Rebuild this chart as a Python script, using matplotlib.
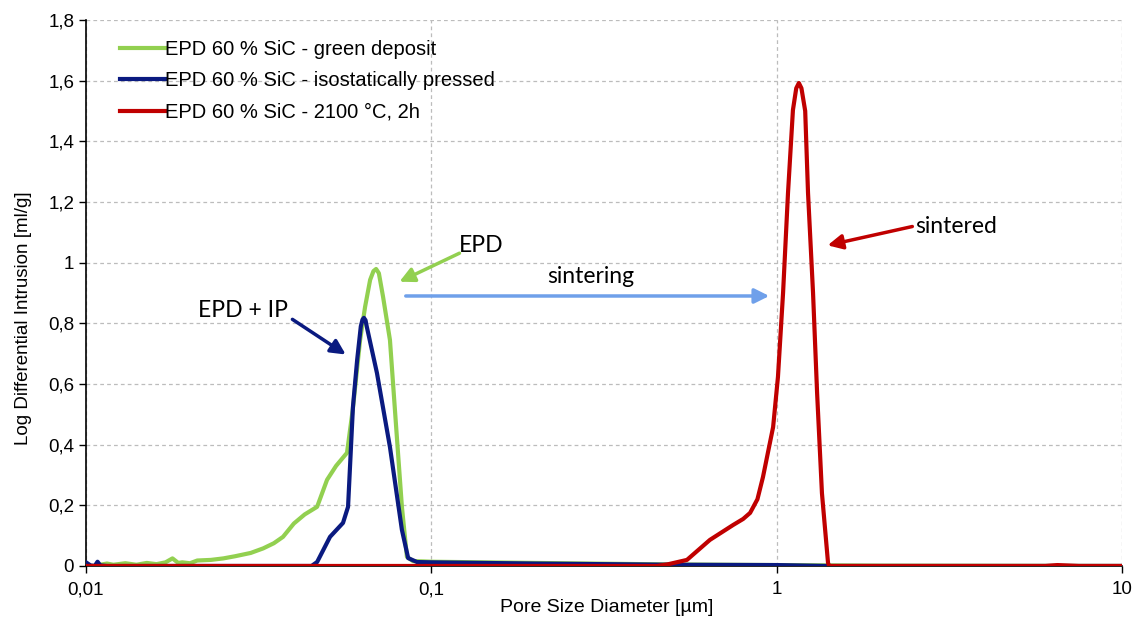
import matplotlib.pyplot as plt
from matplotlib.ticker import FixedLocator, NullLocator

# pore size [um] / log differential intrusion [ml/g]
green_x = [0.0105, 0.0115, 0.012, 0.013, 0.014, 0.015, 0.016, 0.017, 0.0178, 0.0185, 0.019,
           0.020, 0.021, 0.023, 0.025, 0.027, 0.030, 0.0326, 0.035, 0.0372, 0.040, 0.043,
           0.0467, 0.0499, 0.053, 0.057, 0.0593, 0.0622, 0.0643, 0.0665, 0.068, 0.0692,
           0.0705, 0.0725, 0.0759, 0.0796, 0.0822, 0.085, 0.0885, 0.095, 0.1, 0.2, 0.5,
           1.0, 2.0, 10.0]
green_y = [0.0, 0.008, 0.004, 0.009, 0.004, 0.01, 0.006, 0.012, 0.025, 0.01, 0.012,
           0.009, 0.018, 0.02, 0.025, 0.032, 0.043, 0.058, 0.075, 0.096, 0.14, 0.17,
           0.195, 0.284, 0.33, 0.373, 0.52, 0.745, 0.854, 0.943, 0.972, 0.979,
           0.965, 0.887, 0.745, 0.415, 0.195, 0.03, 0.016, 0.015, 0.014, 0.01, 0.005,
           0.003, 0.001, 0.0]

blue_x = [0.01, 0.0103, 0.0106, 0.0108, 0.011, 0.0115, 0.02, 0.045, 0.0467, 0.0509, 0.0555,
          0.0574, 0.0593, 0.061, 0.0625, 0.0632, 0.0638, 0.0645, 0.065, 0.0696, 0.0759,
          0.0822, 0.0857, 0.0909, 0.1, 0.2, 0.5, 1.0, 1.4, 10.0]
blue_y = [0.012, 0.002, 0.0, 0.014, 0.002, 0.0, 0.0, 0.0, 0.013, 0.096, 0.142,
          0.195, 0.524, 0.68, 0.79, 0.812, 0.818, 0.81, 0.79, 0.636, 0.392,
          0.119, 0.026, 0.013, 0.012, 0.008, 0.004, 0.003, 0.0, 0.0]

red_x = [0.01, 0.45, 0.482, 0.55, 0.641, 0.748, 0.80, 0.838, 0.88, 0.913, 0.977, 1.009,
         1.044, 1.079, 1.115, 1.14, 1.16, 1.18, 1.21, 1.233, 1.275, 1.31, 1.353, 1.409,
         1.42, 6.0, 6.5, 7.5, 10.0]
red_y = [0.0, 0.0, 0.005, 0.02, 0.086, 0.135, 0.155, 0.175, 0.22, 0.293, 0.458, 0.623,
         0.90, 1.23, 1.503, 1.575, 1.592, 1.575, 1.50, 1.23, 0.90, 0.57, 0.24, 0.01,
         0.0, 0.0, 0.003, 0.0, 0.0]

labels = ['EPD 60 % SiC - green deposit',
          'EPD 60 % SiC - isostatically pressed',
          'EPD 60 % SiC - 2100 °C, 2h']

x_ticks = [0.01, 0.1, 1, 10]
x_tick_labels = ['0,01', '0,1', '1', '10']
y_ticks = [0, 0.2, 0.4, 0.6, 0.8, 1.0, 1.2, 1.4, 1.6, 1.8]
y_tick_labels = ['0', '0,2', '0,4', '0,6', '0,8', '1', '1,2', '1,4', '1,6', '1,8']

green = '#92d050'
navy = '#0a1a80'
red = '#c00000'
light_blue = '#6fa0ea'

plt.rcParams['font.family'] = ['Liberation Sans', 'DejaVu Sans']

fig = plt.figure(figsize=(11.39, 6.17), dpi=100)
ax = fig.add_axes([0.0755, 0.0827, 0.9095, 0.885])

ax.plot(green_x, green_y, color=green, lw=3, label=labels[0], zorder=3)
ax.plot(blue_x, blue_y, color=navy, lw=3, label=labels[1], zorder=4)
ax.plot(red_x, red_y, color=red, lw=3, label=labels[2], zorder=5)

ax.set_xscale('log')
ax.set_xlim(0.01, 10)
ax.set_ylim(0, 1.8)
ax.xaxis.set_major_locator(FixedLocator(x_ticks))
ax.xaxis.set_minor_locator(NullLocator())
ax.set_xticklabels(x_tick_labels)
ax.set_yticks(y_ticks)
ax.set_yticklabels(y_tick_labels)
ax.tick_params(labelsize=13.5, colors='black', length=5, width=1)
ax.tick_params(axis='x', pad=6)

ax.grid(True, which='major', color='#bcbcbc', ls=(0, (3, 2.5)), lw=0.9)
ax.set_axisbelow(True)
for side in ['top', 'right']:
    ax.spines[side].set_visible(False)
ax.spines['left'].set_linewidth(1.2)
ax.spines['bottom'].set_linewidth(1.2)

ax.set_xlabel('Pore Size Diameter [µm]', fontsize=14)
ax.xaxis.set_label_coords(0.503, -0.06)
ax.set_ylabel('Log Differential Intrusion [ml/g]', fontsize=13.5)
ax.yaxis.set_label_coords(-0.052, 0.454)

ax.legend(loc='upper left', frameon=False, fontsize=14.5, handlelength=2.24,
          handletextpad=0.0, labelspacing=0.62, borderaxespad=0.0,
          bbox_to_anchor=(0.025, 0.978))

ann_font = ['Lato', 'DejaVu Sans']
ax.annotate('', xy=(0.0795, 0.933), xytext=(0.1227, 1.035),
            arrowprops=dict(arrowstyle='-|>', color=green, lw=2.5, mutation_scale=22))
ax.text(0.1393, 1.058, 'EPD', fontsize=16.5, family=ann_font, ha='center', va='center')

ax.annotate('', xy=(0.0574, 0.692), xytext=(0.039, 0.818),
            arrowprops=dict(arrowstyle='-|>', color=navy, lw=2.5, mutation_scale=22))
ax.text(0.0285, 0.841, 'EPD + IP', fontsize=16.5, family=ann_font, ha='center', va='center')

ax.annotate('', xy=(0.97, 0.89), xytext=(0.0828, 0.89),
            arrowprops=dict(arrowstyle='-|>', color=light_blue, lw=2.5, mutation_scale=22))
ax.text(0.29, 0.953, 'sintering', fontsize=16.5, family=ann_font, ha='center', va='center')

ax.annotate('', xy=(1.38, 1.055), xytext=(2.517, 1.121),
            arrowprops=dict(arrowstyle='-|>', color=red, lw=2.5, mutation_scale=22))
ax.text(3.31, 1.118, 'sintered', fontsize=16.5, family=ann_font, ha='center', va='center')

fig.savefig('out.png', dpi=100)
